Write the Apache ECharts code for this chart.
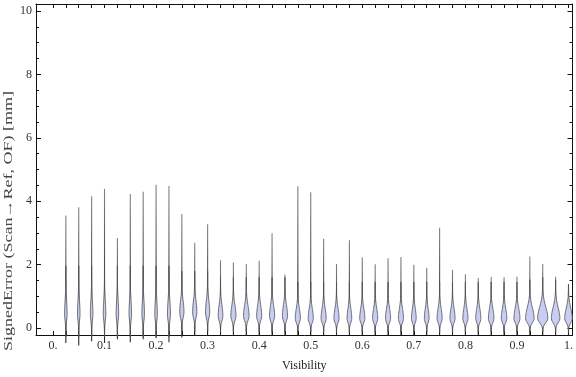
<!DOCTYPE html>
<html>
<head>
<meta charset="utf-8">
<script src="https://cdn.jsdelivr.net/npm/echarts@6/dist/echarts.min.js"></script>
<style>html,body{margin:0;padding:0;background:#fff}#c{width:576px;height:377px}</style>
</head>
<body>
<div id="c"></div>
<script>
// Visibility bins (violin positions)
const visibility = [0.025,0.05,0.075,0.1,0.125,0.15,0.175,0.2,0.225,0.25,0.275,0.3,0.325,0.35,0.375,0.4,0.425,0.45,0.475,0.5,
  0.525,0.55,0.575,0.6,0.625,0.65,0.675,0.7,0.725,0.75,0.775,0.8,0.825,0.85,0.875,0.9,0.925,0.95,0.975,1.0];
// Maximum signed error per bin [mm]
const maxErr = [3.55,3.81,4.16,4.39,2.84,4.23,4.30,4.52,4.48,3.60,2.69,3.27,2.14,2.07,2.02,2.12,2.99,1.69,4.47,4.28,
  2.82,2.02,2.77,2.23,2.01,2.20,2.24,2.00,1.90,3.16,1.84,1.70,1.58,1.61,1.60,1.62,2.26,2.02,1.62,1.38];
// Minimum signed error per bin [mm]
const minErr = [-0.47,-0.55,-0.42,-0.47,-0.35,-0.45,-0.35,-0.32,-0.45,-0.30,-0.25,-0.25,-0.25,-0.25,-0.25,-0.25,-0.25,-0.25,-0.22,-0.22,
  -0.22,-0.22,-0.22,-0.22,-0.22,-0.22,-0.22,-0.22,-0.22,-0.22,-0.22,-0.22,-0.22,-0.22,-0.22,-0.22,-0.22,-0.22,-0.22,-0.22];
// Mode of the distribution per bin [mm]
const modeErr = [0.45,0.45,0.45,0.45,0.45,0.45,0.45,0.45,0.45,0.5,0.5,0.5,0.38,0.38,0.38,0.38,0.38,0.38,0.3,0.3,
  0.3,0.3,0.3,0.3,0.3,0.3,0.3,0.3,0.3,0.3,0.3,0.3,0.3,0.3,0.3,0.3,0.3,0.3,0.3,0.3];
// Peak density width (in visibility units)
const peakWidth = [0.0049,0.0049,0.0049,0.0049,0.0049,0.0049,0.0049,0.0049,0.0058,0.0082,0.0082,0.0082,0.0091,0.0099,0.0107,0.0099,0.0099,0.0099,0.0099,0.0099,
  0.0099,0.0099,0.0091,0.0099,0.0099,0.0099,0.0099,0.0091,0.0091,0.0099,0.0099,0.0099,0.0099,0.0107,0.0107,0.0116,0.0165,0.0198,0.0165,0.0148];
// Spread of the density above / below the mode [mm]
const upSpread = [0.42,0.42,0.42,0.42,0.42,0.42,0.42,0.42,0.42,0.36,0.36,0.36,0.34,0.34,0.34,0.34,0.34,0.34,0.32,0.32,
  0.32,0.32,0.32,0.32,0.32,0.32,0.32,0.32,0.32,0.32,0.32,0.32,0.32,0.32,0.32,0.32,0.34,0.36,0.34,0.32];
const downSpread = [0.22,0.22,0.22,0.22,0.22,0.22,0.22,0.22,0.22,0.18,0.18,0.18,0.15,0.15,0.15,0.15,0.15,0.15,0.13,0.13,
  0.13,0.13,0.13,0.13,0.13,0.13,0.13,0.13,0.13,0.13,0.13,0.13,0.13,0.13,0.13,0.13,0.13,0.13,0.13,0.13];

const xLabelValues = [0,0.1,0.2,0.3,0.4,0.5,0.6,0.7,0.8,0.9,1.0];
const xLabelTexts = ['0.','0.1','0.2','0.3','0.4','0.5','0.6','0.7','0.8','0.9','1.'];
const yMajor = [0,2,4,6,8,10];
const yMinor = [0.5,1,1.5,2.5,3,3.5,4.5,5,5.5,6.5,7,7.5,8.5,9,9.5];

const FONT = '"Liberation Serif","Times New Roman",serif';
const xTicks = visibility.slice(); xTicks.unshift(0);

const data = visibility.map((v, i) => [v, minErr[i], maxErr[i], modeErr[i], peakWidth[i], upSpread[i], downSpread[i]]);

function renderItem(params, api) {
  const x = api.value(0), lo = api.value(1), hi = api.value(2), md = api.value(3);
  const w = api.value(4), su = api.value(5), sl = api.value(6);
  const pTop = api.coord([x, hi]);
  const pBot = api.coord([x, lo]);
  const halfPx = api.size([w, 0])[0] / 2;
  const yStart = Math.max(lo, md - 3.3 * sl);
  const yEnd = Math.min(hi, md + 3.6 * su);
  const left = [], right = [];
  const N = 40;
  for (let k = 0; k <= N; k++) {
    const y = yStart + (yEnd - yStart) * k / N;
    const s = y < md ? sl : su;
    const f = Math.exp(-0.5 * Math.pow((y - md) / s, 2));
    const c = api.coord([x, y]);
    left.push([c[0] - halfPx * f, c[1]]);
    right.unshift([c[0] + halfPx * f, c[1]]);
  }
  const poly = left.concat(right);
  return {
    type: 'group',
    children: [
      {
        type: 'line',
        shape: { x1: pTop[0], y1: pTop[1], x2: pBot[0], y2: pBot[1] },
        style: {
          stroke: new echarts.graphic.LinearGradient(0, pTop[1], 0, pBot[1], [
            { offset: 0, color: 'rgba(90,90,90,0.75)' },
            { offset: 0.6, color: 'rgba(50,50,50,0.95)' },
            { offset: 1, color: 'rgba(40,40,40,1)' }
          ], true),
          lineWidth: 1.1
        }
      },
      {
        type: 'polygon',
        shape: { points: poly },
        style: { fill: '#c8cdf3', stroke: '#505050', lineWidth: 0.8 }
      }
    ]
  };
}

const chart = echarts.init(document.getElementById('c'), null, { renderer: 'canvas' });
const axisLineStyle = { color: '#111', width: 1 };
chart.setOption({
  animation: false,
  grid: { left: 36, right: 3, top: 4, bottom: 40, containLabel: false },
  xAxis: [
    {
      type: 'value', position: 'bottom', min: -0.0329, max: 1.0078,
      axisLine: { show: true, onZero: false, lineStyle: axisLineStyle },
      axisTick: { show: true, inside: true, length: 4, customValues: xTicks, lineStyle: axisLineStyle },
      axisLabel: {
        show: true, customValues: xLabelValues, margin: 5,
        formatter: v => { const i = xLabelValues.findIndex(t => Math.abs(t - v) < 1e-6); return i >= 0 ? xLabelTexts[i] : ''; },
        fontFamily: FONT, fontSize: 12, color: '#333'
      },
      splitLine: { show: false },
      name: 'Visibility', nameLocation: 'middle', nameGap: 25,
      nameTextStyle: { fontFamily: FONT, fontSize: 12, color: '#222' }
    },
    {
      type: 'value', position: 'top', min: -0.0329, max: 1.0078,
      axisLine: { show: true, onZero: false, lineStyle: axisLineStyle },
      axisTick: { show: true, inside: true, length: 4, customValues: xTicks, lineStyle: axisLineStyle },
      axisLabel: { show: false }, splitLine: { show: false }
    }
  ],
  yAxis: [
    {
      type: 'value', position: 'left', min: -0.219, max: 10.219,
      axisLine: { show: true, onZero: false, lineStyle: axisLineStyle },
      axisTick: { show: true, inside: true, length: 5, customValues: yMajor, lineStyle: axisLineStyle },
      axisLabel: { show: true, customValues: yMajor, margin: 4, fontFamily: FONT, fontSize: 12, color: '#333' },
      splitLine: { show: false }
    },
    {
      type: 'value', position: 'left', min: -0.219, max: 10.219,
      axisLine: { show: false, onZero: false },
      axisTick: { show: true, inside: true, length: 3, customValues: yMinor, lineStyle: axisLineStyle },
      axisLabel: { show: false }, splitLine: { show: false }
    },
    {
      type: 'value', position: 'right', min: -0.219, max: 10.219,
      axisLine: { show: true, onZero: false, lineStyle: axisLineStyle },
      axisTick: { show: true, inside: true, length: 5, customValues: yMajor, lineStyle: axisLineStyle },
      axisLabel: { show: false }, splitLine: { show: false }
    },
    {
      type: 'value', position: 'right', min: -0.219, max: 10.219,
      axisLine: { show: false, onZero: false },
      axisTick: { show: true, inside: true, length: 3, customValues: yMinor, lineStyle: axisLineStyle },
      axisLabel: { show: false }, splitLine: { show: false }
    }
  ],
  graphic: [
    {
      type: 'text', x: 8.5, y: 221, rotation: Math.PI / 2, scaleX: 1.5,
      style: { text: 'SignedError (Scan\u2192Ref, OF) [mm]', font: '12px "Liberation Serif","Times New Roman",serif', fill: '#444', align: 'center', verticalAlign: 'middle' }
    }
  ],
  series: [
    {
      type: 'custom', xAxisIndex: 0, yAxisIndex: 0, clip: false,
      renderItem: renderItem,
      encode: { x: 0, y: [1, 2] },
      data: data,
      z: 1
    }
  ]
});
</script>
</body>
</html>
